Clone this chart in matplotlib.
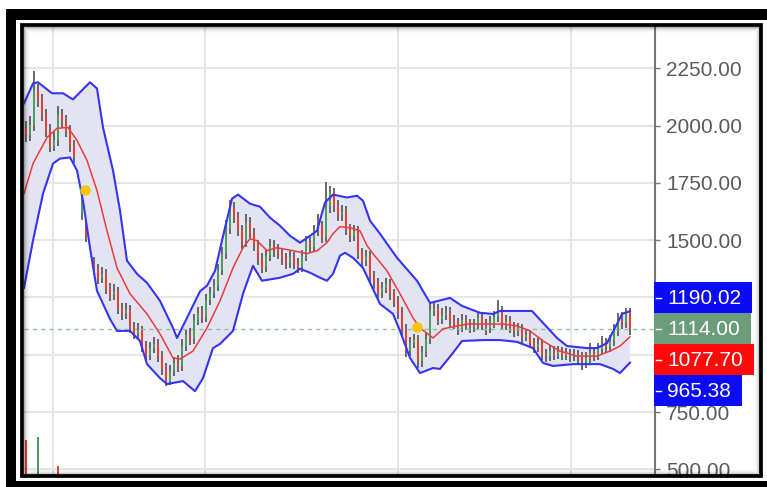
import numpy as np
import matplotlib
matplotlib.use('Agg')
import matplotlib.pyplot as plt
from matplotlib.patches import Rectangle

plt.rcParams['font.family'] = ['Liberation Sans', 'DejaVu Sans']

nan = np.nan

# daily candles (index = trading day in view)
opens = [1990, 1957, 2001, 2154, 2110, 2044, 1979, 1913, 1935, 2044,
         2022, 1979, 1913, nan, 1620, 1560, nan, 1400, 1375, 1335,
         1352, 1290, 1262, 1275, 1205, 1180, 1195, 1120, 1092, 1108,
         1040, 1000, 1030, 1045, 995, 940, 885, 930, 965, 950,
         1040, 1085, 1070, 1150, 1180, 1165, 1240, 1270, 1300, 1370,
         1440, 1550, 1640, 1600, 1545, 1490, 1575, 1530, 1480, 1420,
         1385, 1430, 1476, 1455, 1445, 1420, 1400, 1425, 1400, 1385,
         1430, 1490, 1470, 1540, 1560, 1515, 1650, 1710, 1650, 1610,
         1625, 1550, 1520, 1540, 1445, 1410, 1430, 1345, 1315, 1270,
         1290, 1310, 1265, 1235, 1185, 1110, 1016, 1050, 1065, 973,
         1010, 1069, 1190, 1200, 1156, 1175, 1183, 1150, 1139, 1117,
         1150, 1135, 1120, 1130, 1160, 1135, 1115, 1140, 1165, 1190,
         1130, 1148, 1120, 1104, 1110, 1078, 1085, 1050, 1035, 1045,
         1003, 994, 1016, 1005, 1012, 1000, 1005, 994, 1000, 990,
         968, 986, 1008, 1000, 1025, 1047, 1034, 1060, 1104, 1150,
         1140, 1180]
closes = [1957, 2001, 2154, 2110, 2044, 1979, 1913, 1935, 2044, 2022,
          1979, 1913, 1869, nan, 1672, 1520, nan, 1375, 1335, 1352,
          1290, 1262, 1275, 1205, 1180, 1195, 1120, 1092, 1108, 1040,
          1000, 1030, 1045, 995, 940, 885, 930, 965, 950, 1040,
          1085, 1070, 1150, 1180, 1165, 1240, 1270, 1300, 1370, 1440,
          1550, 1640, 1600, 1545, 1490, 1575, 1530, 1480, 1420, 1385,
          1430, 1476, 1455, 1445, 1420, 1400, 1425, 1400, 1385, 1430,
          1490, 1470, 1540, 1560, 1515, 1650, 1710, 1650, 1610, 1625,
          1550, 1520, 1540, 1445, 1410, 1430, 1345, 1315, 1270, 1290,
          1310, 1265, 1235, 1185, 1110, 1016, 1050, 1065, 973, 1010,
          1069, 1190, 1200, 1156, 1175, 1183, 1150, 1139, 1117, 1150,
          1135, 1120, 1130, 1160, 1135, 1115, 1140, 1165, 1190, 1130,
          1148, 1120, 1104, 1110, 1078, 1085, 1050, 1035, 1045, 1003,
          994, 1016, 1005, 1012, 1000, 1005, 994, 1000, 990, 968,
          986, 1008, 1000, 1025, 1047, 1034, 1060, 1104, 1150, 1140,
          1180, 1114]
highs = [2010, 2030, 2225, 2170, 2125, 2060, 1995, 1960, 2075, 2060,
         2035, 1990, 1925, nan, 1690, 1575, nan, 1415, 1385, 1370,
         1360, 1300, 1295, 1285, 1215, 1215, 1205, 1130, 1125, 1115,
         1050, 1045, 1065, 1055, 1005, 950, 945, 980, 985, 1055,
         1100, 1105, 1165, 1195, 1200, 1255, 1285, 1320, 1385, 1460,
         1575, 1665, 1655, 1610, 1555, 1600, 1590, 1540, 1490, 1430,
         1445, 1495, 1490, 1470, 1455, 1430, 1440, 1435, 1410, 1445,
         1505, 1500, 1555, 1600, 1570, 1740, 1725, 1715, 1665, 1640,
         1635, 1560, 1555, 1550, 1455, 1445, 1440, 1355, 1325, 1305,
         1325, 1320, 1275, 1245, 1195, 1120, 1065, 1080, 1075, 1025,
         1085, 1215, 1215, 1210, 1190, 1200, 1195, 1160, 1150, 1165,
         1160, 1145, 1145, 1175, 1170, 1145, 1155, 1180, 1225, 1200,
         1160, 1155, 1130, 1125, 1120, 1100, 1095, 1060, 1060, 1055,
         1015, 1030, 1025, 1025, 1020, 1018, 1015, 1012, 1010, 1000,
         1000, 1040, 1020, 1040, 1070, 1060, 1075, 1120, 1170, 1175,
         1190, 1190]
lows = [1940, 1945, 1990, 2095, 2030, 1960, 1895, 1900, 1925, 2000,
        1960, 1895, 1850, nan, 1600, 1505, nan, 1360, 1320, 1325,
        1275, 1245, 1250, 1190, 1165, 1170, 1105, 1080, 1085, 1025,
        985, 990, 1020, 980, 925, 875, 878, 920, 935, 940,
        1030, 1055, 1060, 1140, 1150, 1155, 1230, 1260, 1290, 1360,
        1430, 1540, 1585, 1530, 1475, 1480, 1515, 1465, 1405, 1370,
        1375, 1420, 1440, 1430, 1405, 1385, 1390, 1385, 1370, 1375,
        1420, 1455, 1460, 1530, 1500, 1505, 1630, 1635, 1595, 1595,
        1535, 1505, 1510, 1430, 1395, 1400, 1330, 1300, 1255, 1260,
        1280, 1250, 1220, 1170, 1095, 1000, 1005, 1040, 955, 960,
        1000, 1060, 1180, 1140, 1145, 1165, 1135, 1125, 1100, 1110,
        1120, 1105, 1110, 1120, 1120, 1100, 1105, 1130, 1155, 1120,
        1120, 1105, 1090, 1095, 1065, 1070, 1040, 1020, 1025, 990,
        980, 985, 990, 995, 988, 990, 980, 985, 970, 945,
        955, 975, 985, 990, 1015, 1020, 1025, 1050, 1095, 1125,
        1130, 1100]

# Bollinger bands (x = candle index)
upper_idx = [-0.5, 1.75, 3, 6.5, 9.25, 11.75, 14, 16, 17.75, 19.25,
             21.75, 23.5, 25.25, 27.75, 30.25, 33.5, 36.75, 37.75, 40.25, 43.5,
             45.25, 47.25, 49.75, 51.5, 53, 56, 58.5, 61, 63.5, 66,
             68.5, 71, 72.75, 74.75, 76.75, 80.25, 82.75, 84.25, 86, 88.5,
             92.75, 97.75, 101, 106, 109, 113.5, 116.75, 118.5, 126.5, 129.25,
             132.75, 135.25, 140.25, 142.75, 145.25, 147.75, 149, 151]
upper = [2097, 2184, 2189, 2141, 2141, 2114, 2154, 2189, 2162, 1992,
         1804, 1629, 1410, 1353, 1314, 1235, 1117, 1073, 1161, 1277,
         1301, 1366, 1554, 1681, 1699, 1659, 1646, 1598, 1563, 1519,
         1489, 1519, 1541, 1664, 1699, 1686, 1694, 1672, 1585, 1528,
         1423, 1323, 1226, 1248, 1213, 1183, 1178, 1191, 1191, 1139,
         1073, 1038, 1029, 1029, 1051, 1134, 1178, 1190.02]
mid_idx = [-0.5, 1.75, 5.25, 7.75, 10.5, 12.75, 15.25, 17.75, 20.25, 22.75,
           26, 30.25, 33.5, 36.75, 38.5, 41.75, 45.25, 48.5, 51.75, 54.25,
           56, 57.75, 60.25, 62.75, 66.75, 70.25, 72.75, 75.25, 76.75, 78.5,
           81, 83.5, 85.25, 86.75, 90.25, 93.5, 96.75, 98.5, 101.75, 104.25,
           110.25, 116, 119.25, 122.75, 126, 129.25, 133.5, 137.75, 142.75, 146,
           148.5, 151]
mid = [1703, 1834, 1948, 1988, 1992, 1935, 1848, 1716, 1541, 1379,
       1266, 1178, 1091, 986, 981, 1016, 1117, 1235, 1379, 1467,
       1506, 1498, 1454, 1467, 1454, 1441, 1454, 1489, 1528, 1559,
       1554, 1541, 1476, 1441, 1366, 1266, 1161, 1117, 1073, 1113,
       1134, 1134, 1134, 1126, 1104, 1060, 1016, 994, 994, 1016,
       1038, 1077.70]
lower_idx = [-0.5, 1.75, 4.25, 6.75, 8.5, 11, 12.75, 14.25, 16, 17.75,
             21, 22.75, 26, 28.5, 30.25, 33.5, 35.25, 39.25, 42.25, 44.25,
             46.75, 48.5, 51.75, 54.25, 56.75, 59, 63.5, 66.75, 68.5, 71,
             73.5, 75.25, 76.75, 78.5, 79.75, 81.75, 84.25, 86, 88.5, 91.75,
             93.5, 96, 98.5, 101.75, 103.5, 106.75, 109, 114.25, 118.5, 122.75,
             126.75, 129.25, 131.75, 136.75, 143.5, 146.75, 148.5, 151]
lower = [1292, 1498, 1703, 1834, 1856, 1861, 1804, 1672, 1467, 1279,
         1156, 1104, 1104, 1060, 959, 898, 872, 885, 841, 898,
         1029, 1047, 1104, 1266, 1388, 1323, 1336, 1353, 1375, 1358,
         1336, 1323, 1353, 1432, 1445, 1423, 1379, 1314, 1222, 1178,
         1104, 986, 920, 942, 938, 1008, 1060, 1064, 1064, 1056,
         1029, 964, 951, 959, 959, 938, 920, 965.38]

# signal markers, volume bars, month grid lines
signal_idx = [14.75, 97.75]
signal_vals = [1719, 1121]
vol_idx = [0, 3, 8]
vol_vals = [3.4, 3.7, 0.8]
vol_up = [False, True, False]
month_idx = [6.75, 44.75, 93, 136.25]
y_ticks = [500, 750, 1000, 1250, 1500, 1750, 2000, 2250]

GREEN = '#4f9a5f'
RED = '#e8402e'
BLUE = '#3434f2'

W, H = 767, 487
fig = plt.figure(figsize=(W / 100, H / 100), dpi=100)
fig.patch.set_facecolor('white')

pos = [23.5 / W, 1 - 474 / H, (655 - 23.5) / W, (474 - 26.7) / H]
ax = fig.add_axes(pos)
ax.set_xlim(-0.625, 157.25)
ax.set_ylim(479.5, 2431.5)

# grid
ax.set_xticks(month_idx)
ax.set_yticks(y_ticks)
ax.yaxis.set_major_formatter(matplotlib.ticker.FormatStrFormatter('%.2f'))
ax.grid(True, color='#e6e6e6', lw=1.5, zorder=0)
ax.set_axisbelow(True)
ax.tick_params(axis='x', length=0, labelbottom=False)
ax.yaxis.tick_right()
ax.tick_params(axis='y', length=3.6, width=1, color='#777777',
               labelcolor='#5a5a5a', labelsize=15, pad=4.5)
for s in ['top', 'left', 'bottom']:
    ax.spines[s].set_visible(False)
ax.spines['right'].set_color('#777777')
ax.spines['right'].set_linewidth(1.5)

# bands
band_x = upper_idx + lower_idx[::-1]
band_y = upper + lower[::-1]
ax.fill(band_x, band_y, color='#e3e3f1', lw=0, zorder=1)
ax.plot(upper_idx, upper, color=BLUE, lw=1.5, zorder=4)
ax.plot(lower_idx, lower, color=BLUE, lw=1.5, zorder=4)
ax.plot(mid_idx, mid, color='#ee3b3b', lw=1.1, zorder=4)

# candles
o = np.array(opens, float)
c = np.array(closes, float)
hi = np.array(highs, float)
lo = np.array(lows, float)
x = np.arange(len(c))
ok = ~np.isnan(c)
up = ok & (c >= o)
dn = ok & (c < o)
ax.vlines(x[ok], lo[ok] - 12, hi[ok] + 12, color='#5e5e5e', lw=1.3, zorder=2)
bottom = np.minimum(o, c)
height = np.maximum(np.abs(c - o), 6)
ax.bar(x[up], height[up], bottom=bottom[up], width=0.62, color=GREEN, lw=0, zorder=3)
ax.bar(x[dn], height[dn], bottom=bottom[dn], width=0.62, color=RED, lw=0, zorder=3)

# last price line
ax.axhline(closes[-1], color='#8cc39c', lw=1, ls=(0, (3, 3)), zorder=2)

# signal dots
ax.plot(signal_idx, signal_vals, 'o', color='#f7c600', ms=7.5, mec='none', zorder=5)

# volume, on its own transparent axes over the price panel
vax = fig.add_axes(pos, sharex=ax)
vax.set_ylim(0, 44.7)
vax.axis('off')
vax.patch.set_visible(False)
vax.bar(vol_idx, vol_vals, width=0.45,
        color=[GREEN if u else RED for u in vol_up], lw=0)

# overlay for frame and value labels (pixel coordinates)
ov = fig.add_axes([0, 0, 1, 1], zorder=10)
ov.set_xlim(0, W)
ov.set_ylim(H, 0)
ov.axis('off')
ov.patch.set_visible(False)

# inner shadow
for k, a in enumerate([0.30, 0.18, 0.10, 0.06, 0.03, 0.015]):
    ov.add_patch(Rectangle((23.8 + k, 26.9 + k), 759 - 23.8 - 2 * k, 474 - 26.9 - 2 * k,
                           fill=False, ec='black', lw=0.75, alpha=a))
# frames
ov.add_patch(Rectangle((21.6, 24.7), 761 - 21.6, 476 - 24.7, fill=False, ec='black', lw=2.7))
ov.add_patch(Rectangle((6, 9), 10, 478, color='black', lw=0))
ov.add_patch(Rectangle((6, 9), 761, 11, color='black', lw=0))
ov.add_patch(Rectangle((6, 481), 761, 6, color='black', lw=0))

# value labels on the price axis
def to_px(v):
    return H - ax.transData.transform((0, v))[1]

labels = [(upper[-1], '#0b0bf5'), (closes[-1], '#6b9c7c'), (mid[-1], '#ff0a0a'), (lower[-1], '#0b0bf5')]
labels.sort(key=lambda t: -t[0])
box_h = 31
ys = [to_px(v) for v, _ in labels]
anchor = [v for v, _ in labels].index(closes[-1])
for i in range(anchor + 1, len(ys)):
    ys[i] = max(ys[i], ys[i - 1] + box_h)
for i in range(anchor - 1, -1, -1):
    ys[i] = min(ys[i], ys[i + 1] - box_h)

# tick labels sitting fully behind the value boxes are not visible
box_top, box_bot = ys[0] - box_h / 2, ys[-1] + box_h / 2
for tv, lab in zip(y_ticks, ax.get_yticklabels()):
    if box_top < to_px(tv) < box_bot:
        lab.set_visible(False)

renderer = fig.canvas.get_renderer()
for (v, col), yc in zip(labels, ys):
    t = ov.text(667, yc + 0.5, f'{v:.2f}', color='white', fontsize=15,
                va='center', ha='left', zorder=12)
    bb = t.get_window_extent(renderer)
    right = bb.x1 + 11
    ov.add_patch(Rectangle((654, yc - box_h / 2), right - 654, box_h, color=col, lw=0, zorder=11))
    ov.plot([656, 661], [yc, yc], color='white', lw=1, zorder=12)

fig.savefig('out.png', dpi=100)
